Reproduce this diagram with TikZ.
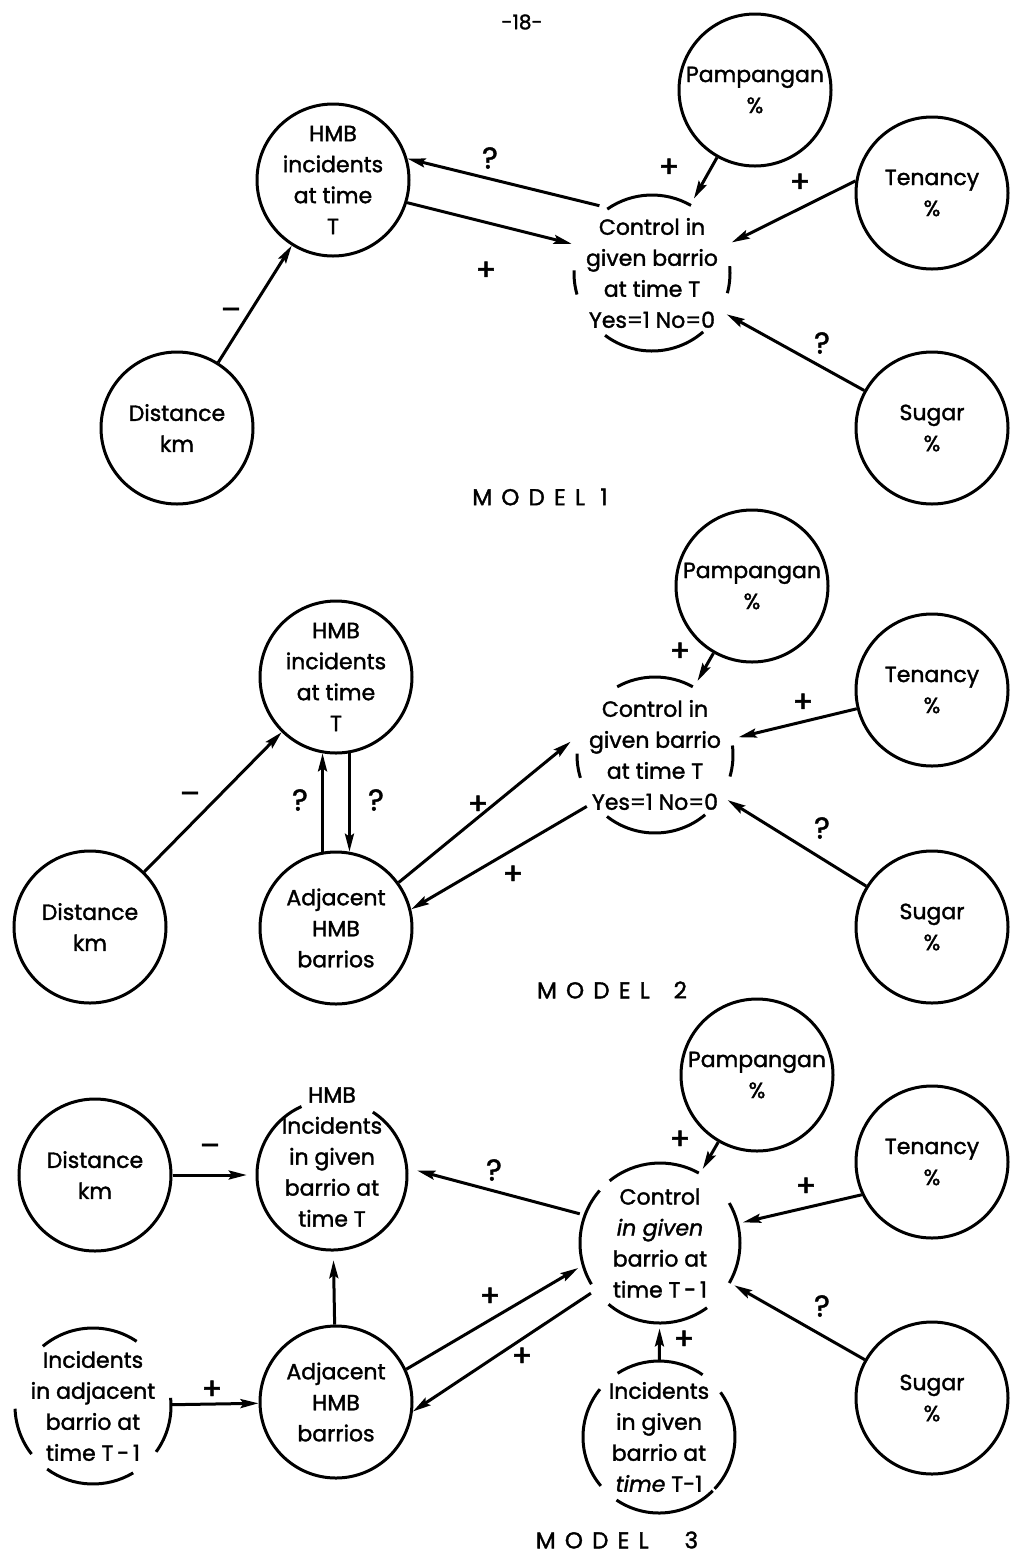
\documentclass[tikz,border=0pt]{standalone}
\usepackage{fontspec}
\setmainfont{Poppins}[FakeBold=1.6]
\usetikzlibrary{arrows.meta}

\begin{document}
\begin{tikzpicture}[x=0.5pt, y=-0.5pt,
  bubble/.style={draw, circle, line width=1.5pt, minimum size=76pt, inner sep=-20pt,
    align=center, font=\fontsize{11}{15.5}\selectfont},
  ring/.style={circle, inner sep=-30pt, align=center, font=\fontsize{11}{15.5}\selectfont},
  conn/.style={line width=1.5pt, -{Stealth[length=9pt, width=4.5pt, inset=1.5pt]}},
  arcline/.style={line width=1.5pt},
  sign/.style={font=\fontsize{15}{15}\selectfont},
  modelname/.style={font=\fontsize{11.5}{14}\selectfont\addfontfeatures{LetterSpace=40}}]
\useasboundingbox (0,0) rectangle (1032,1554);

\node[font=\fontsize{10}{12}\selectfont] (pageno) at (522,22) {-18-};

% model 1
\node[bubble] (hmbA) at (333,180) {HMB\\incidents\\at time\\T};
\node[bubble] (pampA) at (755,90) {Pampangan\\\%};
\node[bubble] (tenA) at (932,193) {Tenancy\\\%};
\node[bubble] (distA) at (177,428) {Distance\\km};
\node[bubble] (sugarA) at (932,428) {Sugar\\\%};
\node[ring, minimum size=85pt] (ctrlA) at (652,273) {Control in\\given barrio\\at time T\\Yes=1 No=0};
\draw[arcline] (ctrlA) ++(-125:78) arc[start angle=-125, end angle=-60, radius=78];
\draw[arcline] (ctrlA) ++(49:78) arc[start angle=49, end angle=127, radius=78];
\draw[arcline] (ctrlA) ++(164:78) arc[start angle=164, end angle=182, radius=78];
\draw[arcline] (ctrlA) ++(-5:78) arc[start angle=-5, end angle=15, radius=78];

\draw[conn] (ctrlA.128) -- (hmbA.16);
\draw[conn] (hmbA.-17) -- (ctrlA.160);
\draw[conn] (distA) -- (hmbA);
\draw[conn] (pampA) -- (ctrlA);
\draw[conn] (tenA.171) -- (ctrlA.21);
\draw[conn] (sugarA) -- (ctrlA);

\node[sign] (sA1) at (490,158) {?};
\node[sign] (sA2) at (486,271) {+};
\node[sign] (sA3) at (231,314) {--};
\node[sign] (sA4) at (669,168) {+};
\node[sign] (sA5) at (800,183) {+};
\node[sign] (sA6) at (822,343) {?};
\node[modelname] (modelA) at (540,497) {MODEL 1};

% model 2
\node[bubble] (pampB) at (752,586) {Pampangan\\\%};
\node[bubble] (tenB) at (932,690) {Tenancy\\\%};
\node[bubble] (hmbB) at (336,677) {HMB\\incidents\\at time\\T};
\node[bubble] (distB) at (90,927) {Distance\\km};
\node[bubble] (adjB) at (336,928) {Adjacent\\HMB\\barrios};
\node[bubble] (sugarB) at (932,927) {Sugar\\\%};
\node[ring, minimum size=85pt] (ctrlB) at (655,755) {Control in\\given barrio\\at time T\\Yes=1 No=0};
\draw[arcline] (ctrlB) ++(-119:78) arc[start angle=-119, end angle=-61, radius=78];
\draw[arcline] (ctrlB) ++(50:78) arc[start angle=50, end angle=128, radius=78];
\draw[arcline] (ctrlB) ++(163:78) arc[start angle=163, end angle=181, radius=78];
\draw[arcline] (ctrlB) ++(-7:78) arc[start angle=-7, end angle=16, radius=78];

\draw[conn] (distB) -- (hmbB);
\draw[conn] (adjB.100) -- (hmbB.260);
\draw[conn] (hmbB.-80) -- (adjB.80);
\draw[conn] (adjB.36) -- (ctrlB.171);
\draw[conn] (ctrlB.217) -- (adjB.14);
\draw[conn] (pampB) -- (ctrlB);
\draw[conn] (tenB.194) -- (ctrlB.12);
\draw[conn] (sugarB) -- (ctrlB);

\node[sign] (sB1) at (190,798) {--};
\node[sign] (sB2) at (300,800) {?};
\node[sign] (sB3) at (376,800) {?};
\node[sign] (sB4) at (478,805) {+};
\node[sign] (sB5) at (513,875) {+};
\node[sign] (sB6) at (680,652) {+};
\node[sign] (sB7) at (803,703) {+};
\node[sign] (sB8) at (822,828) {?};
\node[modelname] (modelB) at (612,990) {MODEL\hspace{12pt}2};

% model 3
\node[bubble] (pampC) at (757,1075) {Pampangan\\\%};
\node[bubble] (tenC) at (932,1162) {Tenancy\\\%};
\node[bubble] (distC) at (95,1175) {Distance\\km};
\node[bubble] (adjC) at (336,1402) {Adjacent\\HMB\\barrios};
\node[bubble] (sugarC) at (932,1398) {Sugar\\\%};
\node[ring, minimum size=75pt] (hmbC) at (332,1175) {};
\node[ring] (hmbCtxt) at (332,1157) {HMB\\Incidents\\in given\\barrio at\\time T};
\draw[arcline] (hmbC) ++(-57:75) arc[start angle=-57, end angle=246, radius=75];
\node[ring, minimum size=85pt] (ctrlC) at (660,1243) {Control\\\textit{in given}\\barrio at\\time T\,-\,1};
\draw[arcline] (ctrlC) ++(-129:80) arc[start angle=-129, end angle=-61, radius=80];
\draw[arcline] (ctrlC) ++(54:80) arc[start angle=54, end angle=130, radius=80];
\draw[arcline] (ctrlC) ++(149:80) arc[start angle=149, end angle=221, radius=80];
\draw[arcline] (ctrlC) ++(-30:80) arc[start angle=-30, end angle=30, radius=80];
\node[ring, minimum size=78pt] (incadjC) at (93,1406) {Incidents\\in adjacent\\barrio at\\time T\,-\,1};
\draw[arcline] (incadjC) ++(-130:78) arc[start angle=-130, end angle=-56, radius=78];
\draw[arcline] (incadjC) ++(59:78) arc[start angle=59, end angle=126, radius=78];
\draw[arcline] (incadjC) ++(142:78) arc[start angle=142, end angle=178, radius=78];
\draw[arcline] (incadjC) ++(-6:78) arc[start angle=-6, end angle=36, radius=78];
\node[ring, minimum size=76pt] (incgivC) at (659,1437) {Incidents\\in given\\barrio at\\\textit{time} T-1};
\draw[arcline] (incgivC) ++(-123:76) arc[start angle=-123, end angle=-55, radius=76];
\draw[arcline] (incgivC) ++(45:76) arc[start angle=45, end angle=124, radius=76];
\draw[arcline] (incgivC) ++(140:76) arc[start angle=140, end angle=219, radius=76];
\draw[arcline] (incgivC) ++(-36:76) arc[start angle=-36, end angle=43, radius=76];

\draw[conn] (distC) -- (hmbC);
\draw[conn] (ctrlC.160) -- (hmbC.3);
\draw[conn] (adjC) -- (hmbC);
\draw[conn] (adjC.25) -- (ctrlC.197);
\draw[conn] (ctrlC.216) -- (adjC.-7);
\draw[conn] (incadjC) -- (adjC);
\draw[conn] (incgivC) -- (ctrlC);
\draw[conn] (pampC) -- (ctrlC);
\draw[conn] (tenC.205) -- (ctrlC.14);
\draw[conn] (sugarC) -- (ctrlC);

\node[sign] (sC1) at (210,1150) {--};
\node[sign] (sC2) at (494,1170) {?};
\node[sign] (sC3) at (490,1297) {+};
\node[sign] (sC4) at (522,1357) {+};
\node[sign] (sC5) at (212,1390) {+};
\node[sign] (sC6) at (684,1340) {+};
\node[sign] (sC7) at (680,1140) {+};
\node[sign] (sC8) at (806,1187) {+};
\node[sign] (sC9) at (822,1306) {?};
\node[modelname] (modelC) at (617,1540) {MODEL\hspace{18pt}3};
\end{tikzpicture}
\end{document}
